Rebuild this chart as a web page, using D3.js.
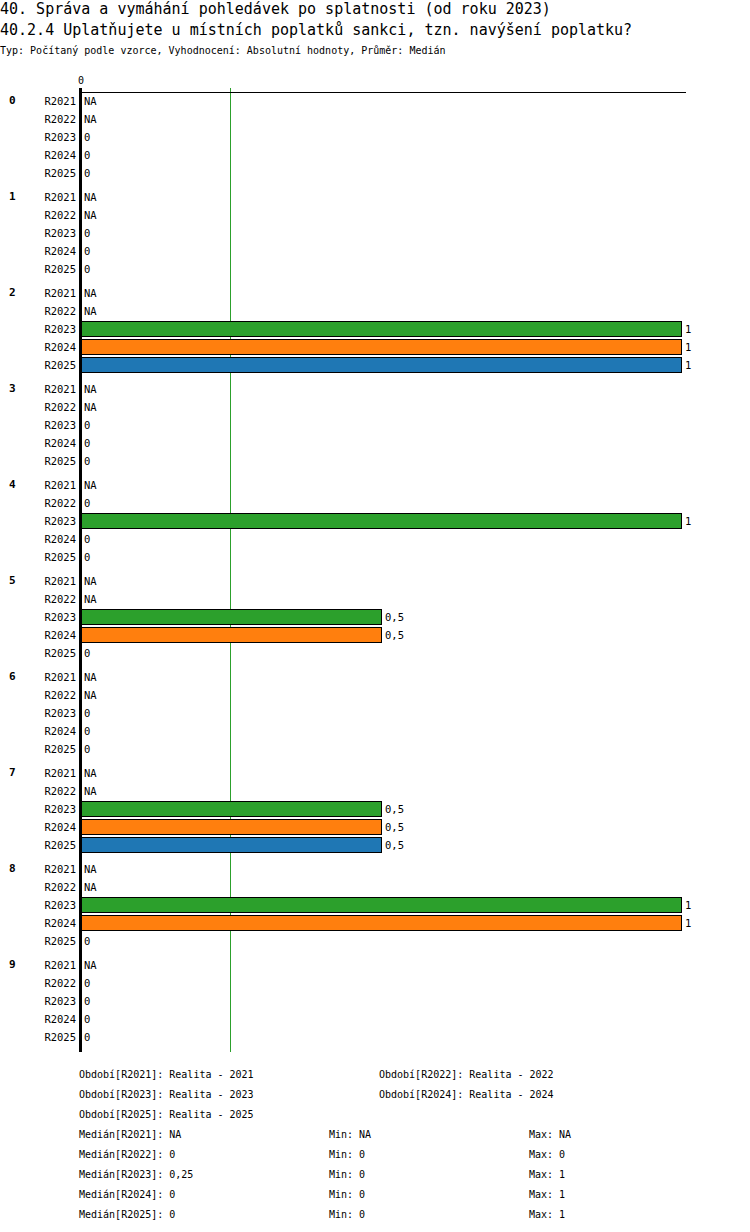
<!DOCTYPE html>
<html>
<head>
<meta charset="utf-8">
<script src="https://cdn.jsdelivr.net/npm/d3@7"></script>
<style>
  body { margin: 0; background: #fff; }
  text { font-family: "DejaVu Sans Mono", monospace; fill: #000; }
  line, rect { shape-rendering: crispEdges; }
</style>
</head>
<body>
<div id="chart"></div>
<script>
// categories and periods
var groups = ["0", "1", "2", "3", "4", "5", "6", "7", "8", "9"];
var periods = ["R2021", "R2022", "R2023", "R2024", "R2025"];

// values per period (null = NA), one entry per group
var r2021 = [null, null, null, null, null, null, null, null, null, null];
var r2022 = [null, null, null, null, 0, null, null, null, null, 0];
var r2023 = [0, 0, 1, 0, 1, 0.5, 0, 0.5, 1, 0];
var r2024 = [0, 0, 1, 0, 0, 0.5, 0, 0.5, 1, 0];
var r2025 = [0, 0, 1, 0, 0, 0, 0, 0.5, 0, 0];
var series = [r2021, r2022, r2023, r2024, r2025];

var colors = ["#d62728", "#9467bd", "#2ca02c", "#ff7f0e", "#1f77b4"];
var periodNames = ["Realita - 2021", "Realita - 2022", "Realita - 2023", "Realita - 2024", "Realita - 2025"];
var medians = ["NA", "0", "0,25", "0", "0"];
var mins = ["NA", "0", "0", "0", "0"];
var maxs = ["NA", "0", "1", "1", "1"];
var medianLine = 0.25; // median of R2023

var fmt = v => v === null ? "NA" : String(v).replace(".", ",");

let svg = d3.select("#chart")
            .append("svg")
            .attr("width", 750)
            .attr("height", 1232);

// titles
svg.append("text").attr("x", 0).attr("y", 14).style("font-size", "15px")
   .text("40. Správa a vymáhání pohledávek po splatnosti (od roku 2023)");
svg.append("text").attr("x", 0).attr("y", 35).style("font-size", "15px")
   .text("40.2.4 Uplatňujete u místních poplatků sankci, tzn. navýšení poplatku?");
svg.append("text").attr("x", 0).attr("y", 54).style("font-size", "10px")
   .text("Typ: Počítaný podle vzorce, Vyhodnocení: Absolutní hodnoty, Průměr: Medián");

let x = d3.scaleLinear().domain([0, 1]).range([81, 681]);

let groupY = d3.scaleBand().domain(groups).range([92, 1052]);
let rowY = d3.scaleBand().domain(periods).range([0, 90]);

let g = svg.append("g");

// median line
g.append("line")
  .attr("x1", x(medianLine) - 0.5).attr("x2", x(medianLine) - 0.5)
  .attr("y1", 88).attr("y2", 1052)
  .style("stroke", "#2ca02c").style("stroke-width", 1);

// top axis
g.append("line").attr("x1", 80).attr("x2", 686).attr("y1", 92.5).attr("y2", 92.5)
  .style("stroke", "#000").style("stroke-width", 1);
g.append("text").attr("x", x(0)).attr("y", 84).attr("text-anchor", "middle")
  .style("font-size", "10px").text("0");

groups.forEach(function (grp, gi) {
  let gy = groupY(grp);
  g.append("text").attr("x", 9).attr("y", gy + 12)
    .style("font-size", "11px").style("font-weight", "bold").text(grp);

  periods.forEach(function (p, pi) {
    let v = series[pi][gi];
    let cy = gy + rowY(p) + rowY.bandwidth() / 2;
    g.append("text").attr("x", 76).attr("y", cy + 4).attr("text-anchor", "end")
      .style("font-size", "10.5px").text(p);
    if (v !== null && v > 0) {
      g.append("rect")
        .attr("x", x(0)).attr("y", cy - 7.5)
        .attr("width", x(v) - x(0)).attr("height", 15)
        .style("fill", colors[pi]).style("stroke", "#000").style("stroke-width", 1);
    }
    g.append("text")
      .attr("x", (v !== null && v > 0) ? x(v) + 4 : 84)
      .attr("y", cy + 4)
      .style("font-size", "10.5px")
      .text(fmt(v));
  });
});

// zero axis line
g.append("line").attr("x1", 80).attr("x2", 80).attr("y1", 88).attr("y2", 1052)
  .style("stroke", "#000").style("stroke-width", 3);

// legend
let leg = svg.append("g").style("font-size", "10px");
periods.forEach(function (p, i) {
  leg.append("text")
    .attr("x", i % 2 === 0 ? 79 : 379)
    .attr("y", 1078 + Math.floor(i / 2) * 20)
    .text("Období[" + p + "]: " + periodNames[i]);
});
periods.forEach(function (p, i) {
  let y = 1138 + i * 20;
  leg.append("text").attr("x", 79).attr("y", y).text("Medián[" + p + "]: " + medians[i]);
  leg.append("text").attr("x", 329).attr("y", y).text("Min: " + mins[i]);
  leg.append("text").attr("x", 529).attr("y", y).text("Max: " + maxs[i]);
});
</script>
</body>
</html>
